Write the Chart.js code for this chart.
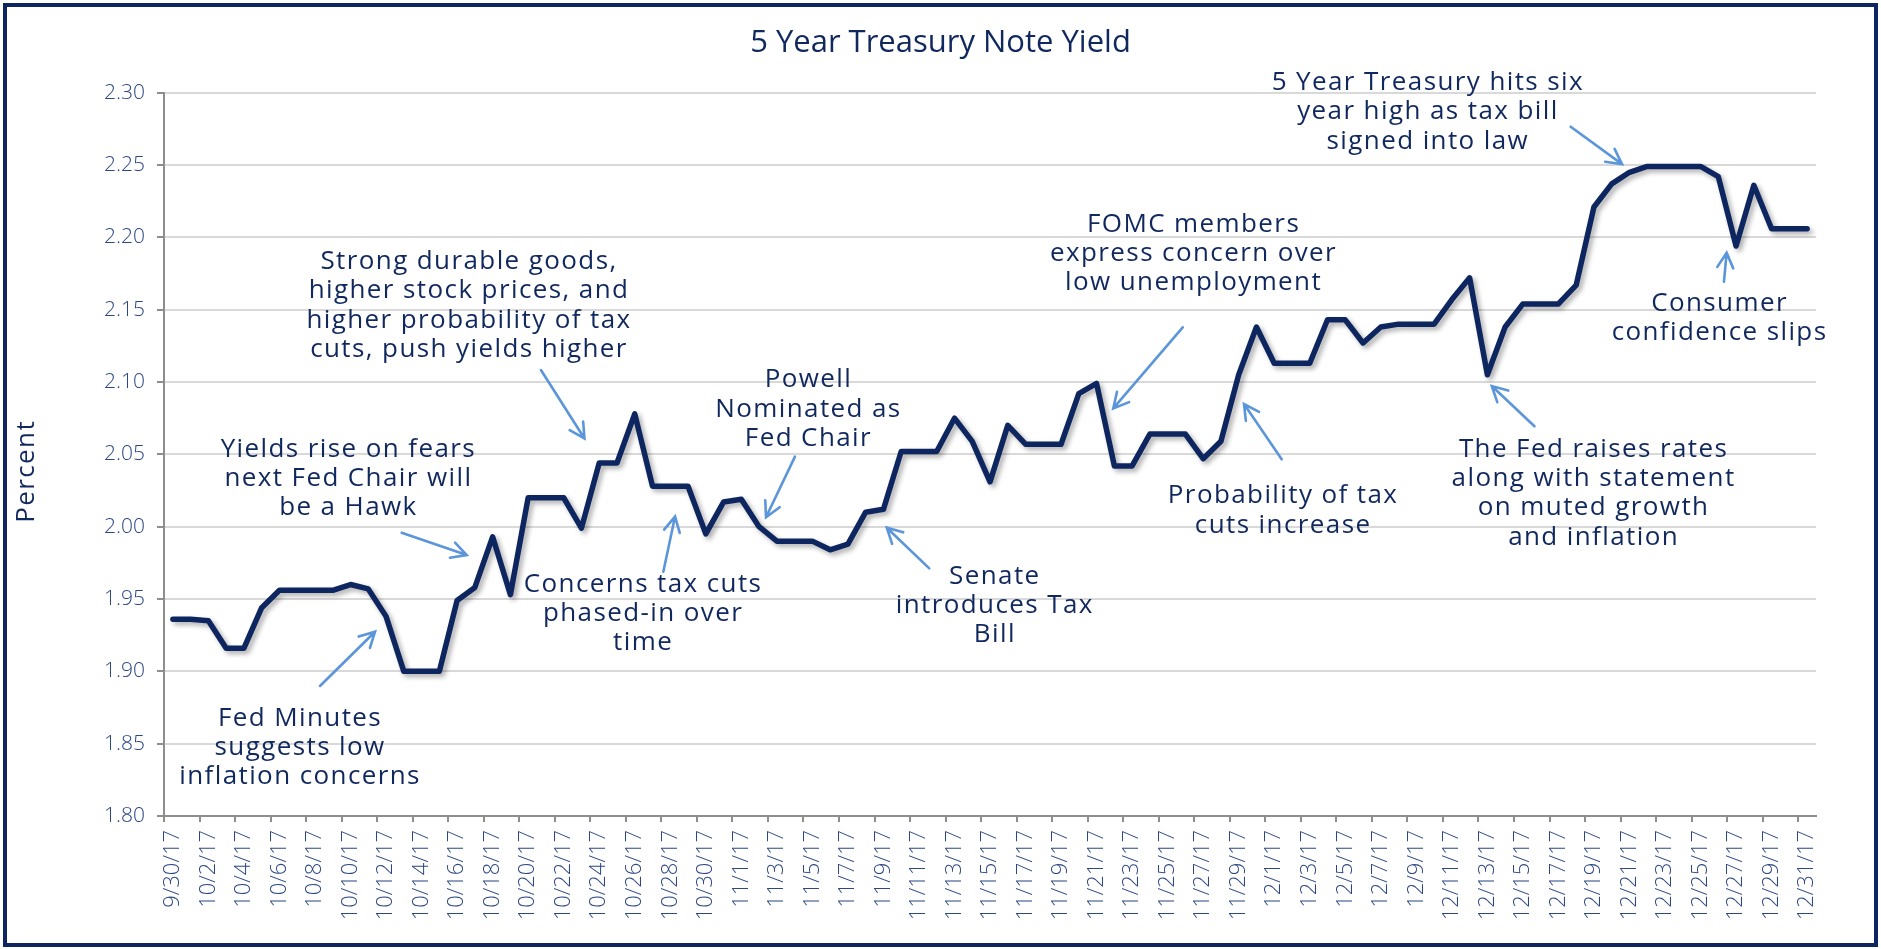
<!DOCTYPE html>
<html>
<head>
<meta charset="utf-8">
<title>5 Year Treasury Note Yield</title>
<script src="https://cdn.jsdelivr.net/npm/chart.js@4.4.1/dist/chart.umd.min.js"></script>
<style>
  html, body { margin: 0; padding: 0; background: #ffffff; }
  #wrap { width: 1881px; height: 949px; }
</style>
</head>
<body>
<div id="wrap"><canvas id="chart" width="1881" height="949"></canvas></div>
<script>
// Daily categories, 9/30/17 through 12/31/17 (weekends/holidays carry the prior close)
const dates = [
  '9/30/17',
  '10/1/17','10/2/17','10/3/17','10/4/17','10/5/17','10/6/17','10/7/17','10/8/17','10/9/17','10/10/17',
  '10/11/17','10/12/17','10/13/17','10/14/17','10/15/17','10/16/17','10/17/17','10/18/17','10/19/17','10/20/17',
  '10/21/17','10/22/17','10/23/17','10/24/17','10/25/17','10/26/17','10/27/17','10/28/17','10/29/17','10/30/17','10/31/17',
  '11/1/17','11/2/17','11/3/17','11/4/17','11/5/17','11/6/17','11/7/17','11/8/17','11/9/17','11/10/17',
  '11/11/17','11/12/17','11/13/17','11/14/17','11/15/17','11/16/17','11/17/17','11/18/17','11/19/17','11/20/17',
  '11/21/17','11/22/17','11/23/17','11/24/17','11/25/17','11/26/17','11/27/17','11/28/17','11/29/17','11/30/17',
  '12/1/17','12/2/17','12/3/17','12/4/17','12/5/17','12/6/17','12/7/17','12/8/17','12/9/17','12/10/17',
  '12/11/17','12/12/17','12/13/17','12/14/17','12/15/17','12/16/17','12/17/17','12/18/17','12/19/17','12/20/17',
  '12/21/17','12/22/17','12/23/17','12/24/17','12/25/17','12/26/17','12/27/17','12/28/17','12/29/17','12/30/17','12/31/17'
];

// 5 year Treasury note yield, percent
const yields = [
  1.936,
  1.936, 1.935, 1.916, 1.916, 1.944, 1.956, 1.956, 1.956, 1.956, 1.960,
  1.957, 1.938, 1.900, 1.900, 1.900, 1.949, 1.958, 1.993, 1.953, 2.020,
  2.020, 2.020, 1.999, 2.044, 2.044, 2.078, 2.028, 2.028, 2.028, 1.995, 2.017,
  2.019, 2.000, 1.990, 1.990, 1.990, 1.984, 1.988, 2.010, 2.012, 2.052,
  2.052, 2.052, 2.075, 2.059, 2.031, 2.070, 2.057, 2.057, 2.057, 2.092,
  2.099, 2.042, 2.042, 2.064, 2.064, 2.064, 2.047, 2.059, 2.105, 2.138,
  2.113, 2.113, 2.113, 2.143, 2.143, 2.127, 2.138, 2.140, 2.140, 2.140,
  2.157, 2.172, 2.105, 2.138, 2.154, 2.154, 2.154, 2.167, 2.221, 2.237,
  2.245, 2.249, 2.249, 2.249, 2.249, 2.242, 2.194, 2.236, 2.206, 2.206, 2.206
];

// Dates labelled on the category axis (every other day)
const tickDates = [
  '9/30/17','10/2/17','10/4/17','10/6/17','10/8/17','10/10/17','10/12/17','10/14/17','10/16/17',
  '10/18/17','10/20/17','10/22/17','10/24/17','10/26/17','10/28/17','10/30/17',
  '11/1/17','11/3/17','11/5/17','11/7/17','11/9/17','11/11/17','11/13/17','11/15/17','11/17/17',
  '11/19/17','11/21/17','11/23/17','11/25/17','11/27/17','11/29/17',
  '12/1/17','12/3/17','12/5/17','12/7/17','12/9/17','12/11/17','12/13/17','12/15/17','12/17/17',
  '12/19/17','12/21/17','12/23/17','12/25/17','12/27/17','12/29/17','12/31/17'
];

// Value axis tick values
const yTickValues = [1.80, 1.85, 1.90, 1.95, 2.00, 2.05, 2.10, 2.15, 2.20, 2.25, 2.30];

// Event call-outs, anchored in data space: [category index, yield]
// "at" is the centre of the first text line's baseline; the arrow runs from -> to
const notes = [
  { lines: ['Strong durable goods,', 'higher stock prices, and', 'higher probability of tax', 'cuts, push yields higher'],
    at: [16.67, 2.178], from: [20.72, 2.1083], to: [23.17, 2.061] },
  { lines: ['Yields rise on fears', 'next Fed Chair will', 'be a Hawk'],
    at: [9.88, 2.0484], from: [12.88, 1.9958], to: [16.54, 1.9804] },
  { lines: ['Fed Minutes', 'suggests low', 'inflation concerns'],
    at: [7.16, 1.8625], from: [8.28, 1.8899], to: [11.38, 1.9274] },
  { lines: ['Concerns tax cuts', 'phased-in over', 'time'],
    at: [26.47, 1.955], from: [27.61, 1.9689], to: [28.27, 2.007] },
  { lines: ['Powell', 'Nominated as', 'Fed Chair'],
    at: [35.78, 2.0964], from: [35.02, 2.0484], to: [33.39, 2.0065] },
  { lines: ['Senate', 'introduces Tax', 'Bill'],
    at: [46.27, 1.9605], from: [42.58, 1.9712], to: [40.19, 1.9993] },
  { lines: ['FOMC members', 'express concern over', 'low unemployment'],
    at: [57.46, 2.2039], from: [56.85, 2.1378], to: [52.94, 2.0818] },
  { lines: ['Probability of tax', 'cuts increase'],
    at: [62.5, 2.0162], from: [62.42, 2.0466], to: [60.3, 2.0848] },
  { lines: ['5 Year Treasury hits six', 'year high as tax bill', 'signed into law'],
    at: [70.65, 2.3019], from: [78.69, 2.2765], to: [81.58, 2.2506] },
  { lines: ['The Fed raises rates', 'along with statement', 'on muted growth', 'and inflation'],
    at: [79.98, 2.0484], from: [76.65, 2.0694], to: [74.25, 2.0972] },
  { lines: ['Consumer', 'confidence slips'],
    at: [87.07, 2.1491], from: [87.32, 2.1694], to: [87.47, 2.1894] }
];

const NAVY = '#0E2660';
const TEXT_NAVY = '#10285E';
const TICK_NAVY = '#2C4783';
const AXIS_GRAY = '#8E8E8E';
const GRID_GRAY = '#D9D9D9';
const ARROW_BLUE = '#5B95DA';
const FONT = 'Open Sans';

function drawArrow(ctx, x1, y1, x2, y2) {
  const ang = Math.atan2(y2 - y1, x2 - x1);
  const head = 17, spread = 28 * Math.PI / 180;
  ctx.beginPath();
  ctx.moveTo(x1, y1);
  ctx.lineTo(x2, y2);
  ctx.moveTo(x2 - head * Math.cos(ang - spread), y2 - head * Math.sin(ang - spread));
  ctx.lineTo(x2, y2);
  ctx.lineTo(x2 - head * Math.cos(ang + spread), y2 - head * Math.sin(ang + spread));
  ctx.stroke();
}

const decor = {
  id: 'decor',
  beforeDraw(chart) {
    const ctx = chart.ctx;
    ctx.save();
    ctx.fillStyle = '#ffffff';
    ctx.fillRect(0, 0, chart.width, chart.height);
    ctx.restore();
  },
  beforeDatasetDraw(chart) {
    const ctx = chart.ctx;
    ctx.save();
    ctx.shadowColor = 'rgba(0, 0, 0, 0.32)';
    ctx.shadowBlur = 5;
    ctx.shadowOffsetX = 3;
    ctx.shadowOffsetY = 3;
  },
  afterDatasetDraw(chart) {
    chart.ctx.restore();
  },
  afterDraw(chart) {
    const { ctx, chartArea, scales: { x, y } } = chart;
    ctx.save();

    // call-out text and arrows
    ctx.font = `26px "${FONT}"`;
    ctx.letterSpacing = '1.4px';
    ctx.fillStyle = TEXT_NAVY;
    ctx.textAlign = 'center';
    ctx.textBaseline = 'alphabetic';
    ctx.strokeStyle = ARROW_BLUE;
    ctx.lineWidth = 2.6;
    ctx.lineCap = 'round';
    ctx.lineJoin = 'miter';
    const gap = 29.3;
    notes.forEach(n => {
      const cx = x.getPixelForValue(n.at[0]);
      const by = y.getPixelForValue(n.at[1]);
      n.lines.forEach((t, k) => ctx.fillText(t, cx, by + k * gap));
      drawArrow(ctx,
        x.getPixelForValue(n.from[0]), y.getPixelForValue(n.from[1]),
        x.getPixelForValue(n.to[0]), y.getPixelForValue(n.to[1]));
    });

    // value axis title
    ctx.save();
    ctx.translate(26.5, (chartArea.top + chartArea.bottom) / 2 + 17);
    ctx.rotate(-Math.PI / 2);
    ctx.textBaseline = 'middle';
    ctx.font = `26px "${FONT}"`;
    ctx.fillText('Percent', 0, 0);
    ctx.restore();

    // outer frame
    ctx.letterSpacing = '0px';
    ctx.strokeStyle = NAVY;
    ctx.lineWidth = 4;
    ctx.strokeRect(5, 5, chart.width - 10, chart.height - 9);
    ctx.restore();
  }
};

const everyOther = ctx => (ctx.index !== undefined && tickDates.includes(dates[ctx.index])) ? AXIS_GRAY : 'rgba(0,0,0,0)';

new Chart(document.getElementById('chart'), {
  type: 'line',
  data: {
    labels: dates,
    datasets: [{
      label: '5 Year Treasury Note Yield',
      data: yields,
      borderColor: NAVY,
      borderWidth: 5.5,
      pointRadius: 0,
      pointHoverRadius: 0,
      tension: 0,
      fill: false,
      borderJoinStyle: 'round',
      borderCapStyle: 'round'
    }]
  },
  options: {
    responsive: false,
    devicePixelRatio: 1,
    animation: false,
    events: [],
    layout: { padding: { left: 65, right: 65, top: 0, bottom: 0 } },
    plugins: {
      legend: { display: false },
      tooltip: { enabled: false },
      title: {
        display: true,
        text: '5 Year Treasury Note Yield',
        color: TEXT_NAVY,
        font: { family: FONT, size: 31, weight: 'normal' },
        padding: { top: 25, bottom: 30.5 }
      }
    },
    scales: {
      x: {
        type: 'category',
        offset: true,
        grid: {
          display: true,
          offset: true,
          drawOnChartArea: false,
          drawTicks: true,
          tickLength: 6,
          lineWidth: 2,
          color: everyOther,
          tickColor: everyOther
        },
        border: { display: true, color: AXIS_GRAY, width: 2 },
        ticks: {
          autoSkip: false,
          minRotation: 90,
          maxRotation: 90,
          padding: 8,
          color: TICK_NAVY,
          font: { family: FONT, size: 22, weight: '300' },
          callback(value, index) {
            return tickDates.includes(dates[index]) ? dates[index] : '';
          }
        },
        afterFit(scale) { scale.height = 133; }
      },
      y: {
        min: 1.8,
        max: 2.3,
        afterBuildTicks(scale) { scale.ticks = yTickValues.map(v => ({ value: v })); },
        grid: {
          color: GRID_GRAY,
          lineWidth: 2,
          drawTicks: true,
          tickLength: 7,
          tickColor: AXIS_GRAY
        },
        border: { display: true, color: AXIS_GRAY, width: 2 },
        ticks: {
          padding: 12,
          color: TICK_NAVY,
          font: { family: FONT, size: 21, weight: '300' },
          callback: v => Number(v).toFixed(2)
        },
        afterFit(scale) { scale.width = 99; }
      }
    }
  },
  plugins: [decor]
});
</script>
</body>
</html>
